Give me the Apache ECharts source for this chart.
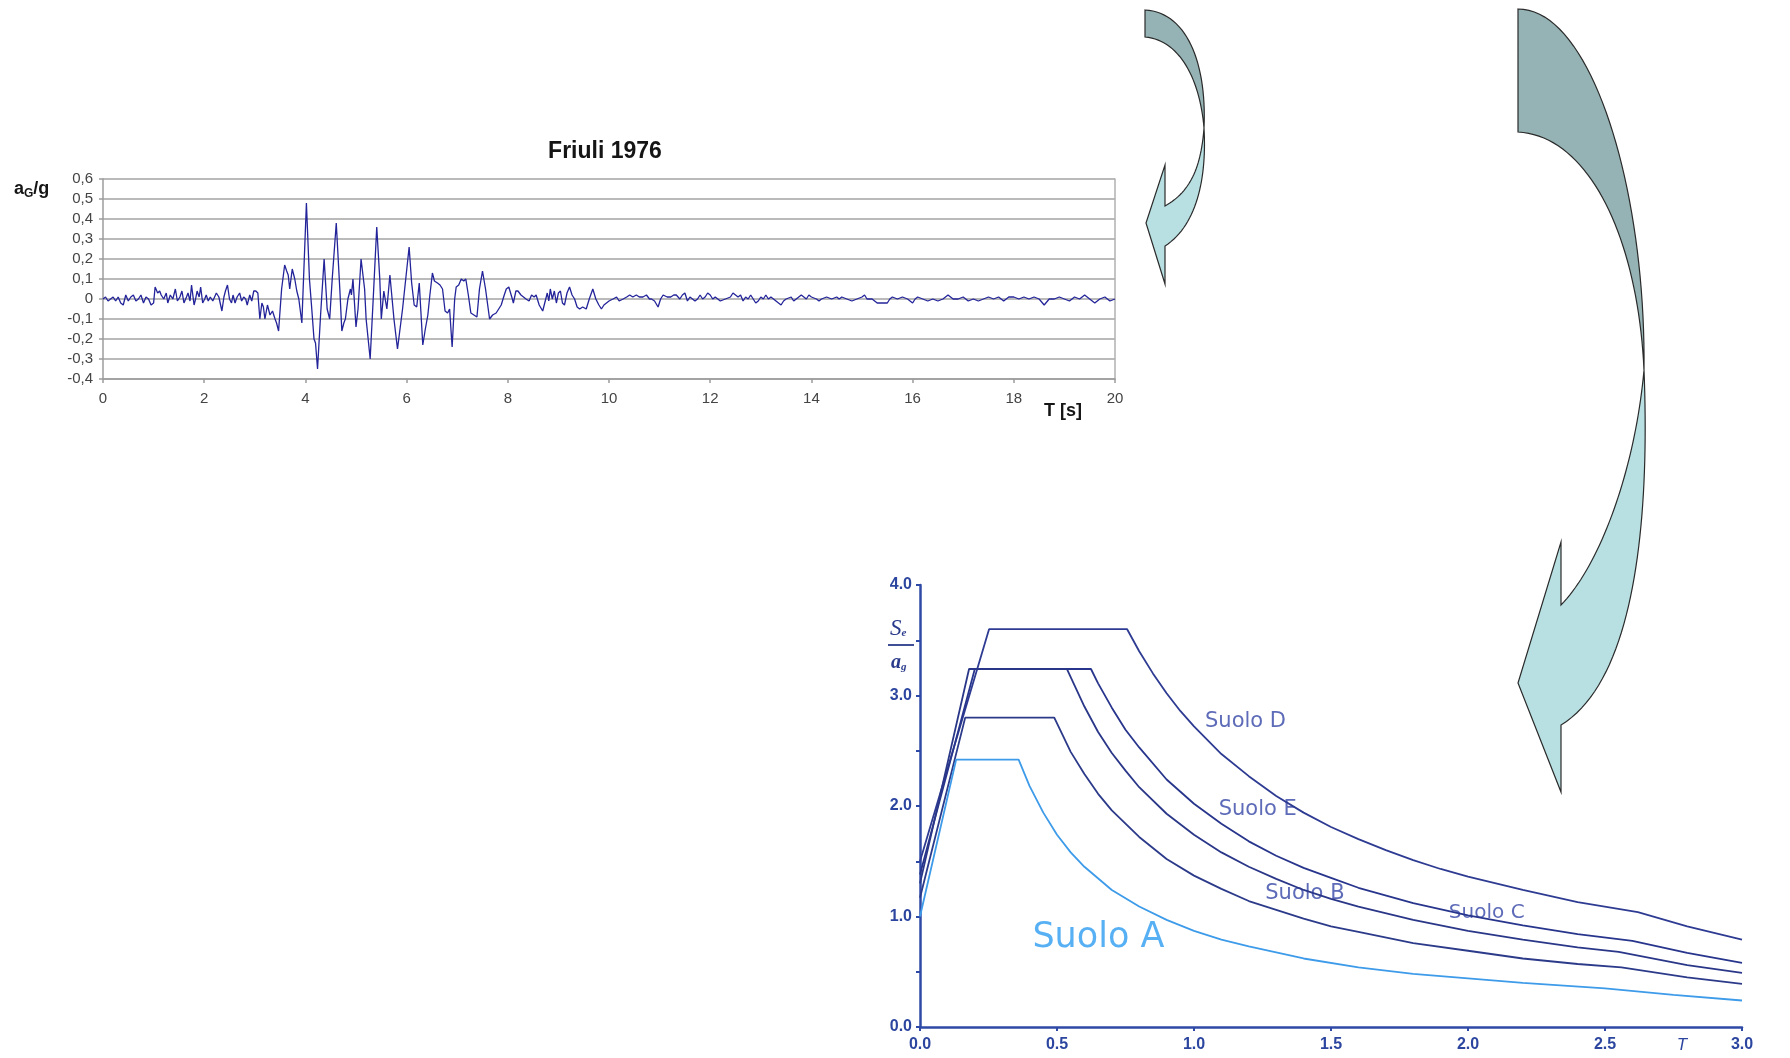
<!DOCTYPE html>
<html>
<head>
<meta charset="utf-8">
<script src="https://cdn.jsdelivr.net/npm/echarts@6/dist/echarts.min.js"></script>
<style>
html,body{margin:0;padding:0;background:#fff;}
#c{width:1790px;height:1058px;}
</style>
</head>
<body>
<div id="c"></div>
<script>
// ---------- Friuli 1976 accelerogram (time in s, acceleration in g) ----------
const accelTime = [
 0.00,0.05,0.10,0.15,0.20,0.25,0.30,0.35,0.40,0.45,0.50,0.55,0.60,0.65,0.70,0.75,0.80,0.85,0.90,0.95,
 1.00,1.03,1.08,1.12,1.15,1.20,1.25,1.28,1.33,1.38,1.43,1.47,1.52,1.56,1.60,1.65,1.68,1.72,1.75,1.80,
 1.83,1.86,1.90,1.93,1.97,2.01,2.04,2.08,2.12,2.17,2.20,2.24,2.29,2.35,2.39,2.42,2.46,2.50,2.54,2.57,
 2.61,2.65,2.70,2.74,2.78,2.82,2.85,2.90,2.94,2.98,3.02,3.06,3.10,3.14,3.17,3.20,3.25,3.30,3.35,3.40,
 3.43,3.47,3.53,3.59,3.63,3.66,3.69,3.74,3.79,3.83,3.87,3.93,4.02,4.08,4.12,4.17,4.20,4.24,4.30,4.37,
 4.43,4.48,4.53,4.61,4.68,4.72,4.76,4.79,4.84,4.89,4.91,4.94,5.00,5.04,5.10,5.17,5.20,5.28,5.34,5.41,
 5.47,5.50,5.55,5.58,5.61,5.67,5.75,5.82,5.92,6.05,6.10,6.15,6.20,6.25,6.32,6.37,6.42,6.46,6.51,6.55,
 6.58,6.61,6.66,6.71,6.76,6.81,6.85,6.90,6.95,6.98,7.03,7.08,7.13,7.17,7.22,7.27,7.33,7.39,7.44,7.50,
 7.56,7.64,7.70,7.77,7.82,7.87,7.93,7.97,8.02,8.05,8.09,8.11,8.16,8.20,8.26,8.31,8.36,8.42,8.47,8.52,
 8.56,8.62,8.69,8.73,8.78,8.81,8.84,8.88,8.92,8.96,9.00,9.04,9.08,9.12,9.17,9.22,9.27,9.32,9.37,9.42,
 9.48,9.55,9.61,9.68,9.74,9.80,9.85,9.90,9.95,10.00,10.08,10.15,10.20,10.28,10.35,10.41,10.47,10.54,10.60,10.67,
 10.74,10.80,10.84,10.90,10.97,11.02,11.07,11.15,11.22,11.28,11.33,11.40,11.45,11.50,11.55,11.60,11.70,11.75,11.80,11.85,
 11.90,11.95,12.00,12.05,12.10,12.20,12.30,12.40,12.45,12.50,12.55,12.60,12.65,12.70,12.75,12.80,12.90,12.95,13.00,13.05,
 13.10,13.15,13.20,13.30,13.35,13.40,13.45,13.50,13.60,13.65,13.70,13.80,13.85,13.90,13.95,14.00,14.10,14.15,14.20,14.30,
 14.40,14.50,14.55,14.60,14.70,14.80,14.90,15.00,15.05,15.10,15.20,15.30,15.40,15.50,15.55,15.60,15.70,15.80,15.90,16.00,
 16.05,16.10,16.20,16.30,16.40,16.50,16.60,16.70,16.80,16.90,17.00,17.10,17.20,17.30,17.40,17.50,17.60,17.70,17.80,17.90,
 18.00,18.10,18.20,18.30,18.40,18.50,18.60,18.70,18.80,18.90,19.00,19.10,19.20,19.30,19.40,19.50,19.60,19.70,19.80,19.90,
 20.00
];
const accelValue = [
 0.00,0.01,-0.01,0.00,0.01,-0.01,0.01,-0.02,-0.03,0.02,-0.01,0.01,0.02,-0.01,0.00,0.02,-0.02,0.01,0.00,-0.03,
 -0.02,0.06,0.03,0.04,0.02,0.00,0.03,-0.02,0.02,0.00,0.05,-0.01,0.01,0.04,-0.02,0.01,0.03,-0.01,0.07,-0.03,
 0.00,0.04,0.01,0.06,-0.02,0.00,0.02,-0.01,0.01,-0.01,0.00,0.03,0.01,-0.06,0.01,0.04,0.07,0.00,-0.02,0.02,
 -0.02,0.01,0.03,-0.01,0.01,0.00,-0.03,0.02,-0.01,0.04,0.04,0.03,-0.10,-0.02,-0.04,-0.10,-0.03,-0.08,-0.06,-0.10,
 -0.12,-0.16,0.05,0.17,0.14,0.12,0.05,0.15,0.10,0.04,0.00,-0.12,0.48,0.10,-0.03,-0.20,-0.22,-0.35,-0.08,0.20,
 -0.05,-0.10,0.10,0.38,0.05,-0.16,-0.12,-0.10,0.00,0.05,0.02,0.10,-0.14,-0.05,0.20,0.05,-0.10,-0.30,0.00,0.36,
 0.10,-0.10,0.04,0.03,-0.05,0.12,-0.10,-0.25,-0.05,0.26,0.08,-0.03,-0.04,0.08,-0.23,-0.15,-0.08,0.02,0.13,0.09,
 0.10,0.08,0.07,0.05,-0.06,-0.07,-0.05,-0.24,0.00,0.06,0.07,0.10,0.09,0.10,0.02,-0.07,-0.08,-0.09,0.05,0.14,
 0.05,-0.10,-0.08,-0.07,-0.05,-0.03,0.02,0.05,0.06,0.07,0.00,-0.02,0.04,0.04,0.02,0.01,0.00,-0.01,0.02,0.01,
 0.02,-0.03,-0.06,-0.02,0.03,-0.01,0.05,0.00,0.04,-0.02,0.03,0.04,-0.02,-0.03,0.03,0.06,0.02,0.00,-0.04,-0.05,
 -0.04,-0.05,0.00,0.05,0.00,-0.03,-0.05,-0.03,-0.02,-0.01,0.00,0.01,-0.01,0.00,0.01,0.02,0.01,0.02,0.01,0.01,
 0.02,0.00,0.00,-0.01,-0.04,0.00,0.02,0.01,0.01,0.02,0.02,0.00,0.02,0.03,-0.01,0.01,-0.01,0.00,0.02,0.00,
 0.01,0.03,0.02,0.00,0.01,-0.01,0.00,0.01,0.03,0.02,0.01,0.02,-0.01,0.01,0.00,0.02,-0.02,-0.01,0.01,0.00,
 0.02,0.00,0.01,-0.01,-0.02,-0.03,-0.01,0.00,0.01,-0.01,0.00,0.02,0.01,0.00,0.02,0.01,0.00,-0.01,0.00,0.01,
 0.00,0.01,0.00,0.01,0.00,-0.01,0.00,0.01,0.02,0.00,0.00,-0.02,-0.02,-0.02,0.00,0.01,0.00,0.01,0.00,-0.02,
 0.00,0.01,0.00,-0.01,0.00,-0.01,0.00,0.02,0.00,0.00,0.01,-0.01,0.00,-0.01,0.00,0.01,0.00,0.01,-0.01,0.01,
 0.01,0.00,0.01,0.00,0.01,0.00,-0.03,0.00,0.00,0.01,0.00,-0.01,0.01,0.00,0.02,0.00,-0.02,0.00,0.01,-0.01,
 0.00
];

// ---------- Elastic response spectra Se/ag vs T ----------
const specT_D = [0,0.252,0.756,0.8,0.85,0.9,0.95,1.0,1.1,1.2,1.3,1.4,1.5,1.6,1.7,1.8,1.9,2.0,2.2,2.4,2.62,2.8,3.0];
const specV_D = [1.50,3.60,3.60,3.40,3.20,3.02,2.86,2.72,2.47,2.27,2.09,1.94,1.81,1.70,1.60,1.51,1.43,1.36,1.24,1.13,1.04,0.91,0.79];
const specT_E = [0,0.2,0.624,0.65,0.7,0.75,0.8,0.9,1.0,1.1,1.2,1.3,1.4,1.5,1.6,1.8,2.0,2.2,2.4,2.6,2.8,3.0];
const specV_E = [1.38,3.24,3.24,3.11,2.89,2.69,2.53,2.24,2.02,1.84,1.68,1.55,1.44,1.35,1.26,1.12,1.01,0.92,0.84,0.78,0.67,0.58];
const specT_C = [0,0.179,0.536,0.6,0.65,0.7,0.75,0.8,0.9,1.0,1.1,1.2,1.3,1.4,1.5,1.6,1.8,2.0,2.2,2.4,2.55,2.8,3.0];
const specV_C = [1.30,3.24,3.24,2.90,2.67,2.48,2.32,2.17,1.93,1.74,1.58,1.45,1.34,1.24,1.16,1.09,0.97,0.87,0.79,0.72,0.68,0.56,0.49];
const specT_B = [0,0.165,0.49,0.55,0.6,0.65,0.7,0.8,0.9,1.0,1.1,1.2,1.3,1.4,1.5,1.6,1.8,2.0,2.2,2.4,2.56,2.8,3.0];
const specV_B = [1.17,2.80,2.80,2.49,2.29,2.11,1.96,1.72,1.52,1.37,1.25,1.14,1.06,0.98,0.91,0.86,0.76,0.69,0.62,0.57,0.54,0.45,0.39];
const specT_A = [0,0.132,0.36,0.4,0.45,0.5,0.55,0.6,0.7,0.8,0.9,1.0,1.1,1.2,1.4,1.6,1.8,2.0,2.2,2.5,2.75,3.0];
const specV_A = [1.00,2.42,2.42,2.18,1.94,1.74,1.58,1.45,1.24,1.09,0.97,0.87,0.79,0.73,0.62,0.54,0.48,0.44,0.40,0.35,0.29,0.24];

// curve labels: [T, Se/ag, text]
const curveLabels = [
 [1.04, 2.76, 'Suolo D'],
 [1.09, 1.97, 'Suolo E'],
 [1.26, 1.21, 'Suolo B'],
 [1.93, 1.03, 'Suolo C'],
 [0.41, 0.81, 'Suolo A']
];

const zip = (t, v) => t.map((x, i) => [x, v[i]]);

const GRAY = '#9c9c9c';
const BLUE_AX = '#2f4aa6';
const NAVY = '#2e3b92';
const SANS = 'Liberation Sans, Arial, sans-serif';

// decorative arrow outlines built from cubic bezier pieces
function bez(p0, p1, p2, p3, n) {
  const pts = [];
  for (let i = 0; i <= n; i++) {
    const t = i / n, u = 1 - t;
    pts.push([
      u*u*u*p0[0] + 3*u*u*t*p1[0] + 3*u*t*t*p2[0] + t*t*t*p3[0],
      u*u*u*p0[1] + 3*u*u*t*p1[1] + 3*u*t*t*p2[1] + t*t*t*p3[1]
    ]);
  }
  return pts;
}
const bigDark = bez([1518,9],[1592,9],[1646,190],[1644,370],40)
  .concat(bez([1644,370],[1638,240],[1590,136],[1518,132],40));
const bigLight = bez([1644,370],[1650,520],[1635,680],[1561,725],40)
  .concat([[1561,792],[1518,683],[1561,542]])
  .concat(bez([1561,605],[1600,565],[1635,470],[1644,370],40));
const smallDark = bez([1145,10],[1186,12],[1207,62],[1204,128],30)
  .concat(bez([1204,128],[1200,80],[1180,40],[1145,37],30));
const smallLight = bez([1204,128],[1207,180],[1196,226],[1165,246],30)
  .concat([[1165,284],[1146,223],[1165,165]])
  .concat(bez([1165,206],[1190,192],[1201,168],[1204,128],30));

const chart = echarts.init(document.getElementById('c'), null, {renderer: 'canvas'});

const labelData = curveLabels.map(d => {
  const isA = d[2] === 'Suolo A';
  const isC = d[2] === 'Suolo C';
  return {
    value: [d[0], d[1]],
    name: d[2],
    label: {
      show: true, position: 'right', distance: 0, formatter: d[2],
      fontFamily: 'DejaVu Sans, sans-serif',
      fontSize: isA ? 35 : (isC ? 20 : 21),
      color: isA ? '#2d9cf0' : '#3546a6'
    }
  };
});

const option = {
  animation: false,
  backgroundColor: '#ffffff',
  grid: [
    {left: 103, top: 179, width: 1012, height: 200},
    {left: 920, top: 585, width: 822, height: 442}
  ],
  xAxis: [
    {
      type: 'value', gridIndex: 0, min: 0, max: 20, interval: 2,
      axisLine: {show: true, onZero: false, lineStyle: {color: GRAY, width: 1.5}},
      axisTick: {show: true, length: 4, lineStyle: {color: GRAY, width: 1.5}},
      axisLabel: {color: '#444', fontSize: 15, fontFamily: SANS, margin: 12, showMinLabel: true, showMaxLabel: true},
      splitLine: {show: false}
    },
    {
      type: 'value', gridIndex: 1, min: 0, max: 3, interval: 0.5,
      axisLine: {show: true, onZero: false, lineStyle: {color: BLUE_AX, width: 2.5}},
      axisTick: {show: true, length: 4, lineStyle: {color: BLUE_AX, width: 2}},
      axisLabel: {color: '#2c46a0', fontSize: 16, fontWeight: 'bold', fontFamily: SANS, margin: 10,
        showMinLabel: true, showMaxLabel: true, formatter: v => v.toFixed(1)},
      splitLine: {show: false}
    }
  ],
  yAxis: [
    {
      type: 'value', gridIndex: 0, min: -0.4, max: 0.6, interval: 0.1,
      axisLine: {show: true, onZero: false, lineStyle: {color: GRAY, width: 1.5}},
      axisTick: {show: true, length: 4, lineStyle: {color: GRAY, width: 1.5}},
      axisLabel: {color: '#444', fontSize: 15, fontFamily: SANS, margin: 10, showMinLabel: true, showMaxLabel: true,
        formatter: v => Math.abs(v) < 1e-9 ? '0' : v.toFixed(1).replace('.', ',')},
      splitLine: {show: true, lineStyle: {color: '#a3a3a3', width: 1.6}}
    },
    {
      type: 'value', gridIndex: 0, position: 'right', min: -0.4, max: 0.6,
      axisLine: {show: true, onZero: false, lineStyle: {color: '#b0b0b0', width: 1.5}},
      axisTick: {show: false}, axisLabel: {show: false}, splitLine: {show: false}
    },
    {
      type: 'value', gridIndex: 1, min: 0, max: 4, interval: 0.5,
      axisLine: {show: true, onZero: false, lineStyle: {color: BLUE_AX, width: 2.5}},
      axisTick: {show: true, length: 4, lineStyle: {color: BLUE_AX, width: 2}},
      axisLabel: {color: '#2c46a0', fontSize: 16, fontWeight: 'bold', fontFamily: SANS, margin: 8,
        showMinLabel: true, showMaxLabel: true,
        formatter: v => (Math.abs(v - Math.round(v)) < 1e-9 ? v.toFixed(1) : '')},
      splitLine: {show: false}
    }
  ],
  series: [
    {
      name: 'Friuli 1976', type: 'line', xAxisIndex: 0, yAxisIndex: 0,
      data: zip(accelTime, accelValue), showSymbol: false, symbol: 'none',
      lineStyle: {color: '#24249a', width: 1.3}
    },
    {name: 'Suolo D', type: 'line', xAxisIndex: 1, yAxisIndex: 2, data: zip(specT_D, specV_D),
      symbol: 'none', lineStyle: {color: NAVY, width: 1.8}},
    {name: 'Suolo E', type: 'line', xAxisIndex: 1, yAxisIndex: 2, data: zip(specT_E, specV_E),
      symbol: 'none', lineStyle: {color: '#28358c', width: 1.8}},
    {name: 'Suolo C', type: 'line', xAxisIndex: 1, yAxisIndex: 2, data: zip(specT_C, specV_C),
      symbol: 'none', lineStyle: {color: '#2a3788', width: 1.8}},
    {name: 'Suolo B', type: 'line', xAxisIndex: 1, yAxisIndex: 2, data: zip(specT_B, specV_B),
      symbol: 'none', lineStyle: {color: '#2c3a8a', width: 1.8}},
    {name: 'Suolo A', type: 'line', xAxisIndex: 1, yAxisIndex: 2, data: zip(specT_A, specV_A),
      symbol: 'none', lineStyle: {color: '#3d9be9', width: 1.8}},
    {name: 'labels', type: 'scatter', xAxisIndex: 1, yAxisIndex: 2, symbolSize: 0.1,
      itemStyle: {color: 'rgba(0,0,0,0)'}, data: labelData, silent: true}
  ],
  graphic: [
    {type: 'text', x: 605, y: 152, style: {text: 'Friuli 1976', font: 'bold 23px ' + SANS, fill: '#151515',
      align: 'center', verticalAlign: 'middle'}},
    {type: 'text', x: 14, y: 178, style: {
      text: '{m|a}{s|G}{m|/g}', rich: {
        m: {font: 'bold 18px ' + SANS, fill: '#151515', lineHeight: 22},
        s: {font: 'bold 12px ' + SANS, fill: '#151515', lineHeight: 22, padding: [10, 0, 0, 0]}
      }}},
    {type: 'text', x: 1044, y: 411, style: {text: 'T [s]', font: 'bold 18px ' + SANS, fill: '#151515',
      align: 'left', verticalAlign: 'middle'}},
    {type: 'text', x: 1682, y: 1045, style: {text: 'T', font: 'italic 17px ' + SANS, fill: '#2c46a0',
      align: 'center', verticalAlign: 'middle'}},
    {type: 'text', x: 890, y: 617, style: {
      text: '{m|S}{s|e}', rich: {
        m: {font: 'italic 23px Liberation Serif, serif', fill: '#2a3a8a', lineHeight: 24},
        s: {font: 'italic bold 11px Liberation Serif, serif', fill: '#2a3a8a', lineHeight: 24, padding: [9, 0, 0, 0]}
      }}},
    {type: 'line', shape: {x1: 888, y1: 645, x2: 914, y2: 645}, style: {stroke: '#2a3a8a', lineWidth: 1.8}},
    {type: 'text', x: 891, y: 652, style: {
      text: '{m|a}{s|g}', rich: {
        m: {font: 'italic bold 20px Liberation Serif, serif', fill: '#2a3a8a', lineHeight: 22},
        s: {font: 'italic bold 11px Liberation Serif, serif', fill: '#2a3a8a', lineHeight: 22, padding: [9, 0, 0, 0]}
      }}},
    {type: 'polygon', shape: {points: bigDark}, style: {fill: '#95b3b4', stroke: '#2a2a2a', lineWidth: 1.2}},
    {type: 'polygon', shape: {points: bigLight}, style: {fill: '#b8e0e2', stroke: '#2a2a2a', lineWidth: 1.2}},
    {type: 'polygon', shape: {points: smallDark}, style: {fill: '#95b3b4', stroke: '#2a2a2a', lineWidth: 1.2}},
    {type: 'polygon', shape: {points: smallLight}, style: {fill: '#b8e0e2', stroke: '#2a2a2a', lineWidth: 1.2}}
  ]
};

chart.setOption(option);
</script>
</body>
</html>
